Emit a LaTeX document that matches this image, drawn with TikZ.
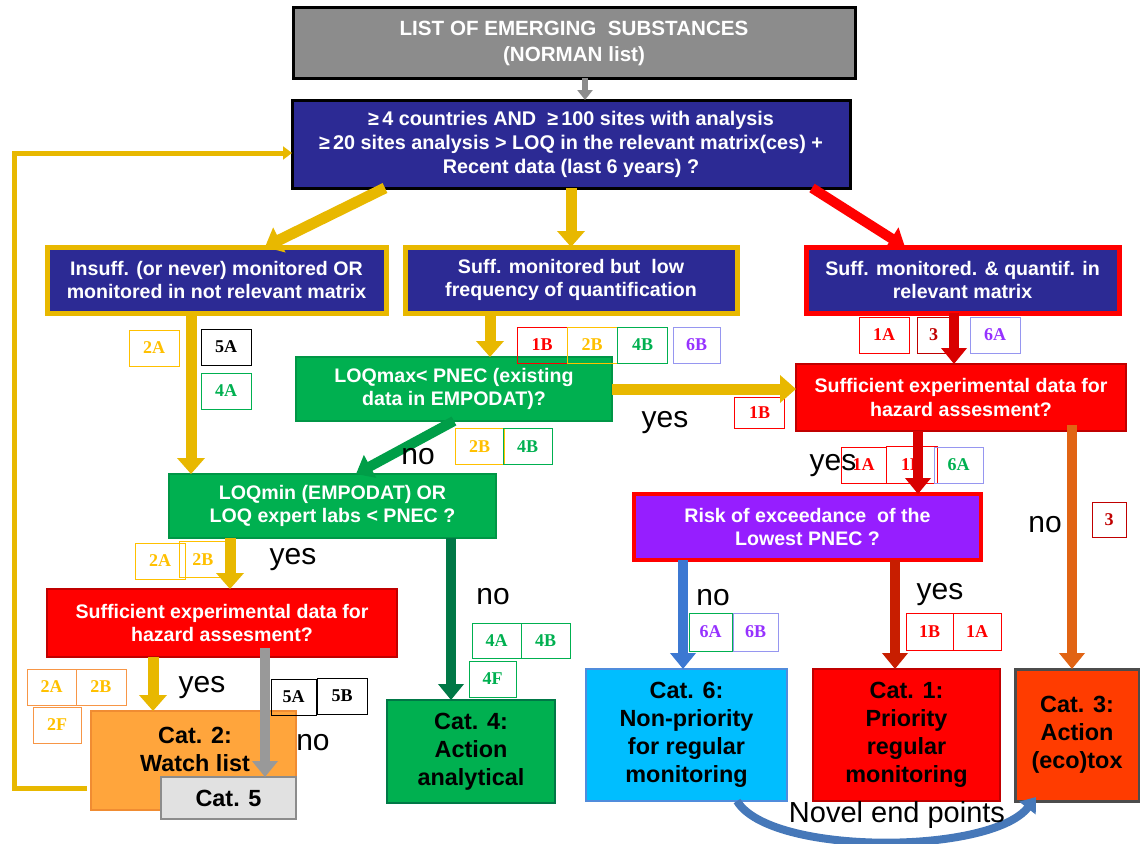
\documentclass[tikz,border=0pt]{standalone}
\usepackage{fontspec}
\setmainfont{Liberation Sans}
\newfontfamily\tnr{Liberation Serif}
\usetikzlibrary{arrows.meta}
\definecolor{gold}{RGB}{232,184,0}
\definecolor{nblue}{RGB}{44,42,148}
\definecolor{ngreen}{RGB}{0,176,80}
\definecolor{bgreen}{RGB}{0,150,70}
\definecolor{dgreen}{RGB}{0,120,70}
\definecolor{nred}{RGB}{255,0,0}
\definecolor{dred}{RGB}{192,0,0}
\definecolor{npurple}{RGB}{150,30,255}
\definecolor{lav}{RGB}{150,150,240}
\definecolor{tpurple}{RGB}{150,50,255}
\definecolor{ncyan}{RGB}{0,190,255}
\definecolor{cyanb}{RGB}{80,140,220}
\definecolor{norange}{RGB}{255,165,60}
\definecolor{orangeb}{RGB}{240,140,50}
\definecolor{cat3c}{RGB}{255,60,0}
\definecolor{tyellow}{RGB}{255,192,0}
\definecolor{torange}{RGB}{247,150,70}
\definecolor{lgray}{RGB}{225,225,225}
\definecolor{mgray}{RGB}{140,140,140}
\definecolor{steel}{RGB}{70,120,185}
\definecolor{oarrow}{RGB}{225,100,20}
\definecolor{rbarrow}{RGB}{200,30,0}
\definecolor{barrow}{RGB}{60,120,210}
\begin{document}
\begin{tikzpicture}[x=1pt,y=-1pt,
  box/.style={rectangle, inner sep=0pt, outer sep=0pt, align=center, text=white,
    font=\bfseries\fontsize{19.6}{23.5}\selectfont},
  catbox/.style={rectangle, inner sep=0pt, outer sep=0pt, align=center, text=black,
    font=\bfseries\fontsize{23.4}{28}\selectfont},
  tag/.style={rectangle, draw=#1, text=#1, line width=1pt, inner sep=0pt, outer sep=0pt,
    minimum width=50pt, minimum height=36pt, font=\tnr\bfseries\fontsize{18}{18}\selectfont},
  ans/.style={inner sep=0pt, font=\fontsize{30}{30}\selectfont, text=black},
  yarr/.style={draw=gold, line width=11pt, -{Triangle[width=27pt,length=16pt]}},
  rarr/.style={draw=#1, line width=10pt, -{Triangle[width=25pt,length=16pt]}},
]
\useasboundingbox (0,0) rectangle (1140,843);

% boxes
\node[box, fill=mgray, draw=black, line width=3pt, minimum width=562pt, minimum height=70pt,
  font=\bfseries\fontsize{20.6}{26}\selectfont] (top) at (574,43) {LIST OF EMERGING\ \ SUBSTANCES\\(NORMAN list)};
\node[box, fill=nblue, draw=black, line width=3pt, minimum width=558pt, minimum height=88pt,
  font=\bfseries\fontsize{19.8}{24}\selectfont] (blue) at (571,144)
  {≥\,4 countries AND\ \ ≥\,100 sites with analysis\\≥\,20 sites analysis > LOQ in the relevant matrix(ces) +\\Recent data (last 6 years) ?};
\node[box, fill=nblue, draw=gold, line width=5pt, minimum width=339pt, minimum height=66pt] (ins) at (216.5,280)
  {Insuff. (or never) monitored OR\\monitored in not relevant matrix};
\node[box, fill=nblue, draw=gold, line width=5pt, minimum width=332pt, minimum height=66pt] (low) at (571,280)
  {Suff. monitored but\ \ low\\frequency of quantification};
\node[box, fill=nblue, draw=nred, line width=5pt, minimum width=313pt, minimum height=66pt] (suff) at (962.5,280)
  {Suff. monitored. \& quantif. in\\relevant matrix};
\node[box, fill=ngreen, draw=bgreen, line width=2pt, minimum width=316pt, minimum height=64pt] (g1) at (454,389)
  {LOQmax< PNEC (existing\\data in EMPODAT)?};
\node[box, fill=nred, draw=dred, line width=2pt, minimum width=330pt, minimum height=67pt] (rh) at (961,397.5)
  {Sufficient experimental data for\\hazard assesment?};
\node[box, fill=ngreen, draw=bgreen, line width=2pt, minimum width=327pt, minimum height=64pt] (g2) at (332.5,506)
  {LOQmin (EMPODAT) OR\\LOQ expert labs < PNEC ?};
\node[box, fill=npurple, draw=nred, line width=4pt, minimum width=347pt, minimum height=66pt] (risk) at (807.5,527)
  {Risk of exceedance\ \ of the\\Lowest PNEC ?};
\node[box, fill=nred, draw=dred, line width=2pt, minimum width=350pt, minimum height=68pt] (lh) at (222,623)
  {Sufficient experimental data for\\hazard assesment?};
\node[catbox, fill=norange, draw=orangeb, line width=2pt, minimum width=205pt, minimum height=99pt] (cat2) at (193.5,760.5) {};
\node[catbox] (cat2t) at (195,749) {Cat. 2:\\Watch list};
\node[catbox, fill=lgray, draw=mgray, line width=2.5pt, minimum width=135pt, minimum height=42pt] (cat5) at (228.5,798) {Cat. 5};
\node[catbox, fill=ngreen, draw=dgreen, line width=2pt, minimum width=168pt, minimum height=103pt] (cat4) at (471,751.5)
  {Cat. 4:\\Action\\analytical};
\node[catbox, fill=ncyan, draw=cyanb, line width=2pt, minimum width=201pt, minimum height=132pt] (cat6) at (686.5,735)
  {Cat. 6:\\Non-priority\\for regular\\monitoring};
\node[catbox, fill=nred, draw=dred, line width=2pt, minimum width=187pt, minimum height=132pt] (cat1) at (906.5,735)
  {Cat. 1:\\Priority\\regular\\monitoring};
\node[catbox, fill=cat3c, draw=black!70, line width=3pt, minimum width=124pt, minimum height=132pt] (cat3) at (1077,735)
  {Cat. 3:\\Action\\(eco)tox};

% tags
\node[tag=tyellow] (t1) at (154,348) {2A};
\node[tag=black] (t2) at (226,347) {5A};
\node[tag=ngreen] (t3) at (226,391) {4A};
\node[tag=nred] (t4) at (542,345) {1B};
\node[tag=tyellow] (t5) at (592,345) {2B};
\node[tag=ngreen] (t6) at (642.5,345) {4B};
\node[tag=lav, text=tpurple, minimum width=47pt] (t7) at (696.5,345) {6B};
\node[tag=nred, minimum height=31pt] (t8) at (759.5,412.5) {1B};
\node[tag=tyellow, minimum width=49pt] (t9) at (479.5,446.5) {2B};
\node[tag=ngreen, minimum width=49pt] (t10) at (527.5,446.5) {4B};
\node[tag=tyellow] (t11) at (160,561) {2A};
\node[tag=tyellow, minimum width=48pt] (t12) at (203,559.5) {2B};
\node[tag=torange, text=tyellow, minimum width=49pt] (t13) at (51.5,687) {2A};
\node[tag=torange, text=tyellow] (t14) at (101,687) {2B};
\node[tag=torange, text=tyellow, minimum width=48pt] (t15) at (57,725) {2F};
\node[tag=black, minimum width=45pt] (t16) at (293.5,697) {5A};
\node[tag=black] (t17) at (342,696) {5B};
\node[tag=ngreen, minimum width=49pt, minimum height=35pt] (t18) at (496.5,640.5) {4A};
\node[tag=ngreen, minimum width=49pt, minimum height=35pt] (t19) at (545.5,640.5) {4B};
\node[tag=ngreen, minimum width=47pt] (t20) at (492.5,679) {4F};
\node[tag=nred] (t21) at (884,335) {1A};
\node[tag=dred, minimum width=33pt] (t22) at (933.5,335) {3};
\node[tag=lav, text=tpurple] (t23) at (995,335) {6A};
\node[tag=nred, minimum width=45pt] (t24) at (863.5,465) {1A};
\node[tag=nred, minimum width=51pt, minimum height=37pt] (t25) at (911.5,465) {1B};
\node[tag=lav, text=ngreen, minimum width=49pt] (t26) at (958.5,465) {6A};
\node[tag=dred, minimum width=34pt, minimum height=35pt] (t27) at (1109,519.5) {3};
\node[tag=ngreen, text=tpurple, minimum width=43pt, minimum height=38pt] (t28) at (710.5,632) {6A};
\node[tag=lav, text=tpurple, minimum width=45pt, minimum height=38pt] (t29) at (755.5,632) {6B};
\node[tag=nred, minimum width=47pt, minimum height=37pt] (t30) at (929.5,631.5) {1B};
\node[tag=nred, minimum width=48pt, minimum height=37pt] (t31) at (977,631.5) {1A};

% arrows
\draw[draw=gray!90, line width=6pt, -{Triangle[width=15pt,length=10pt]}] ([xshift=11pt]top.south) -- ([xshift=14pt]blue.north);
\draw[yarr] ([xshift=93pt]blue.south west) -- ([xshift=48.5pt]ins.north);
\draw[yarr] (blue.south) -- (low.north);
\draw[rarr=nred] ([xshift=-38pt]blue.south east) -- ([xshift=99pt]suff.north west);
\draw[draw=gold, line width=5pt, -{Triangle[width=13pt,length=9pt]}]
  ([xshift=-4pt,yshift=-27.5pt]cat2.west) -- ++(-73,0) |- ([yshift=-9pt]blue.west);
\draw[yarr] ([xshift=-25.5pt]ins.south) -- ([xshift=-25.5pt]ins.south |- g2.north);
\draw[yarr] ([xshift=-81pt]low.south) -- ([xshift=-81pt]low.south |- g1.north);
\draw[yarr] (g1.east) -- (g1.east -| rh.west);
\draw[rarr=ngreen!90!black] (g1.south) -- ([xshift=23.5pt]g2.north);
\draw[rarr=nred!85!black] ([xshift=-8.5pt]suff.south) -- ([xshift=-8.5pt]suff.south |- rh.north);
\draw[rarr=nred!85!black] ([xshift=-43pt]rh.south) -- ([xshift=-43pt]rh.south |- risk.north);
\draw[rarr=oarrow] ([xshift=-54pt,yshift=6pt]rh.south east) -- ([xshift=-54pt]rh.south east |- cat3.north);
\draw[yarr] ([xshift=61pt]g2.south west) -- ([xshift=61pt]g2.south west |- lh.north);
\draw[rarr=dgreen] ([xshift=-45pt]g2.south east) -- ([xshift=-45pt]g2.south east |- cat4.north);
\draw[yarr] ([xshift=106pt]lh.south west) -- ([xshift=106pt]lh.south west |- cat2.north);
\draw[rarr=gray!80] ([xshift=-132pt,yshift=9pt]lh.south east) -- ([xshift=-132pt]lh.south east |- cat5.north);
\draw[rarr=barrow] ([xshift=49pt]risk.south west) -- ([xshift=49pt]risk.south west |- cat6.north);
\draw[rarr=rbarrow] ([xshift=-86pt]risk.south east) -- ([xshift=-86pt]risk.south east |- cat1.north);
\draw[draw=steel, line width=8pt, -{Triangle[width=20pt,length=14pt]}]
  ([xshift=-50pt]cat6.south east) .. controls +(33,55) and +(-45,58) .. ([xshift=21pt,yshift=4pt]cat3.south west);

% answers
\node[ans] (a1) at (665,423) {yes};
\node[ans] (a2) at (418,457) {no};
\node[ans] (a3) at (293,560) {yes};
\node[ans] (a4) at (493,597) {no};
\node[ans] (a5) at (202,688) {yes};
\node[ans] (a6) at (313,743) {no};
\node[ans] (a7) at (833,466) {yes};
\node[ans] (a8) at (1045,525) {no};
\node[ans] (a9) at (713,598) {no};
\node[ans] (a10) at (940,595) {yes};
\node[ans, font=\fontsize{29}{29}\selectfont] (nov) at (897,815) {Novel end points};
\end{tikzpicture}
\end{document}
